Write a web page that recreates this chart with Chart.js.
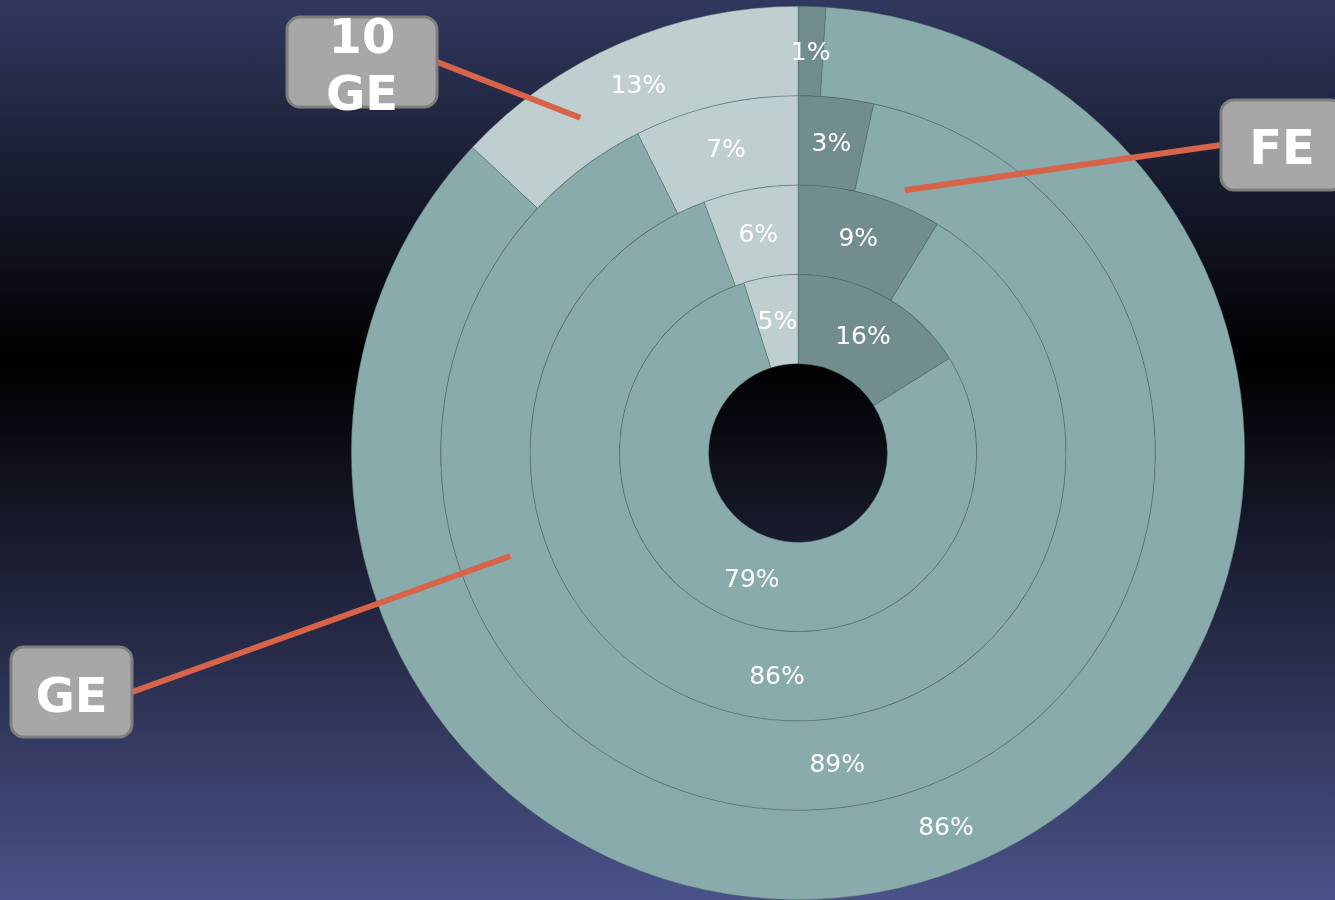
<!DOCTYPE html>
<html>
<head>
<meta charset="utf-8">
<script src="https://cdn.jsdelivr.net/npm/chart.js@4.4.1/dist/chart.umd.min.js"></script>
<style>
    html, body { margin: 0; padding: 0; }
    body {
        width: 1335px; height: 900px; overflow: hidden;
        background: linear-gradient(to bottom, #31385f 0%, #000000 40%, #4a5289 100%);
    }
    #wrap { position: relative; width: 1335px; height: 900px; }
</style>
</head>
<body>
<div id="wrap"><canvas id="ringChart"></canvas></div>
<script>
// Share of ports per type, one array per ring (inner -> outer)
const categories = ["FE", "GE", "10GE"];
const ring1 = [16.1, 79.0, 4.9];   // innermost
const ring2 = [8.7, 85.6, 5.7];
const ring3 = [3.4, 89.2, 7.4];
const ring4 = [1.0, 86.0, 13.0];   // outermost
const sliceColors = ["#718d8d", "#8aabab", "#bfcfcf"];

// callout boxes: text lines, box, and where the leader line points (angle from top in deg, radius as share of outer radius)
const callouts = [
    { lines: ["10", "GE"], baselines: [53, 110], box: { x: 287, y: 17, w: 150, h: 90 }, start: [437, 62], angle: 327, rad: 0.895 },
    { lines: ["FE"], baselines: [164], box: { x: 1221, y: 100, w: 122, h: 90 }, start: [1221, 145], angle: 22.1, rad: 0.635 },
    { lines: ["GE"], baselines: [712], box: { x: 11, y: 647, w: 121, h: 90 }, start: [132, 692], angle: 250.3, rad: 0.684 }
];

const sliceLabels = {
    id: "sliceLabels",
    afterDatasetsDraw(chart) {
        const ctx = chart.ctx;
        ctx.save();
        ctx.font = "25px 'DejaVu Sans'";
        ctx.fillStyle = "#ffffff";
        ctx.textAlign = "center";
        ctx.textBaseline = "middle";
        chart.data.datasets.forEach((ds, i) => {
            const total = ds.data.reduce((a, b) => a + b, 0);
            chart.getDatasetMeta(i).data.forEach((arc, j) => {
                const p = arc.tooltipPosition();
                ctx.fillText(Math.round(ds.data[j] / total * 100) + "%", p.x, p.y + 2);
            });
        });
        ctx.restore();
    }
};

const calloutPlugin = {
    id: "callouts",
    afterDraw(chart) {
        const ctx = chart.ctx;
        const arc0 = chart.getDatasetMeta(0).data[0];
        const cx = arc0.x, cy = arc0.y, R = arc0.outerRadius;
        ctx.save();
        callouts.forEach(c => {
            const a = c.angle * Math.PI / 180;
            const ex = cx + Math.sin(a) * R * c.rad;
            const ey = cy - Math.cos(a) * R * c.rad;
            ctx.strokeStyle = "#d6634a";
            ctx.lineWidth = 6;
            ctx.beginPath();
            ctx.moveTo(c.start[0], c.start[1]);
            ctx.lineTo(ex, ey);
            ctx.stroke();

            ctx.beginPath();
            ctx.roundRect(c.box.x, c.box.y, c.box.w, c.box.h, 13);
            ctx.fillStyle = "#a7a7a7";
            ctx.fill();
            ctx.lineWidth = 3;
            ctx.strokeStyle = "#7f7f7f";
            ctx.stroke();

            ctx.fillStyle = "#ffffff";
            ctx.font = "bold 48px 'DejaVu Sans'";
            ctx.textAlign = "center";
            ctx.textBaseline = "alphabetic";
            c.lines.forEach((t, k) => {
                ctx.fillText(t, c.box.x + c.box.w / 2, c.baselines[k]);
            });
        });
        ctx.restore();
    }
};

const makeRing = (name, values) => ({
    label: name,
    data: values,
    backgroundColor: sliceColors,
    borderColor: "rgba(70, 100, 100, 0.7)",
    borderWidth: 0.6
});

new Chart(document.getElementById("ringChart"), {
    type: "doughnut",
    data: {
        labels: categories,
        // Chart.js puts the first dataset on the outside
        datasets: [
            makeRing("ring4", ring4),
            makeRing("ring3", ring3),
            makeRing("ring2", ring2),
            makeRing("ring1", ring1)
        ]
    },
    options: {
        responsive: true,
        maintainAspectRatio: false,
        animation: false,
        cutout: "20%",
        layout: { padding: { left: 351, right: 90, top: 6, bottom: 0 } },
        plugins: {
            legend: { display: false },
            tooltip: { enabled: false }
        }
    },
    plugins: [sliceLabels, calloutPlugin]
});
</script>
</body>
</html>
